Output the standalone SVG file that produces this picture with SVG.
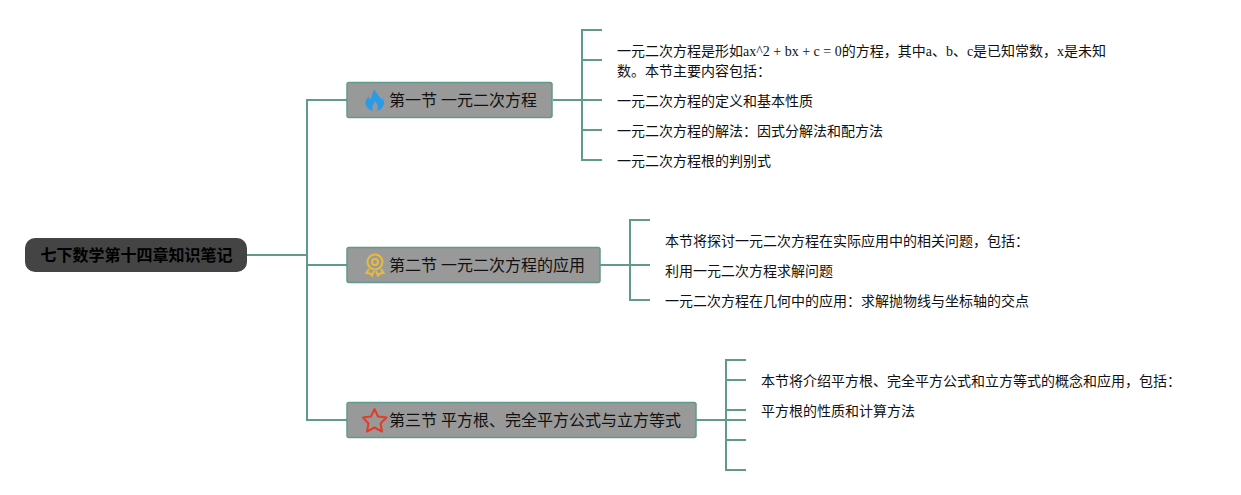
<svg xmlns="http://www.w3.org/2000/svg" width="1241" height="495" viewBox="0 0 1241 495">
<style>
text{font-family:"Liberation Serif","Noto Sans CJK SC",serif;fill:#111}
.leaf{font-size:14px}
.sec{font-size:16px}
.root{font-size:16px;font-weight:bold;fill:#000}
.box{fill:#999;stroke:#5f9a8b;stroke-width:1.5}
.ln{fill:none;stroke:#5f9a8b;stroke-width:2}
</style>
<rect width="1241" height="495" fill="#fff"/>
<g id="connectors">
<path class="ln" d="M247 255H307M347 100H307V420H347M307 265H347"/>
<path class="ln" d="M553 100H602M602 30H582V160H602M582 60H602M582 130H602"/>
<path class="ln" d="M600 265H650M650 220H630V300H650M630 265H650"/>
<path class="ln" d="M696 420H746M746 360H726V470H746M726 380H746M726 410H746M726 440H746"/>
</g>
<g id="root"><rect x="25" y="238" width="222" height="34" rx="10" fill="#444"/><text class="root" x="40.500" y="261">七下数学第十四章知识笔记</text></g>
<g id="sec1"><rect class="box" x="347" y="82.500" width="205" height="35" rx="2"/>
<path fill="#2b9be8" fill-rule="evenodd" d="M374.500 89.500C376 93 378.500 95 380.500 98C381 99 381.500 100 381.500 100.500C382 99.500 382 98.500 382 97.500C384 100 384.500 103 383.500 105.500C382.500 108.500 379.500 110.500 376.500 110.500C378.500 108.500 378.500 105 375 101.500C373 105 371 107.500 373.500 110.500C369.500 110.500 366 107.500 365.500 104C365 100.500 367 98.500 368.500 96.500C369 98 369.500 99 370.500 99.500C371.500 96 372.500 92.500 374.500 89.500Z"/>
<text class="sec" x="389" y="106">第一节 一元二次方程</text></g>
<g id="sec2"><rect class="box" x="347" y="247.500" width="253" height="35" rx="2"/>
<g fill="none" stroke="#e8bb3a" stroke-width="2"><circle cx="375" cy="262" r="7.500"/><circle cx="375" cy="262" r="3"/><path d="M369 269L366.500 273L370 273.500L372 275.500L374 271M381 269L383.500 273L380 273.500L378 275.500L376 271"/></g>
<text class="sec" x="389" y="271">第二节 一元二次方程的应用</text></g>
<g id="sec3"><rect class="box" x="347" y="402.500" width="349" height="35" rx="2"/>
<path fill="none" stroke="#e23c28" stroke-width="2" stroke-linejoin="round" d="M374.500 409L378 416.500L386.500 417.500L380.500 423.500L382 431.500L374.500 427.500L367 431.500L368.500 423.500L363 417.500L371 416.500Z"/>
<text class="sec" x="389" y="426">第三节 平方根、完全平方公式与立方等式</text></g>
<g id="leaves1"><text class="leaf" x="617" y="56">一元二次方程是形如ax^2 + bx + c = 0的方程，其中a、b、c是已知常数，x是未知</text><text class="leaf" x="617" y="76">数。本节主要内容包括：</text><text class="leaf" x="617" y="106">一元二次方程的定义和基本性质</text><text class="leaf" x="617" y="136">一元二次方程的解法：因式分解法和配方法</text><text class="leaf" x="617" y="166">一元二次方程根的判别式</text></g>
<g id="leaves2"><text class="leaf" x="665" y="246">本节将探讨一元二次方程在实际应用中的相关问题，包括：</text><text class="leaf" x="665" y="276">利用一元二次方程求解问题</text><text class="leaf" x="665" y="306">一元二次方程在几何中的应用：求解抛物线与坐标轴的交点</text></g>
<g id="leaves3"><text class="leaf" x="761" y="386">本节将介绍平方根、完全平方公式和立方等式的概念和应用，包括：</text><text class="leaf" x="761" y="416">平方根的性质和计算方法</text></g>
</svg>
